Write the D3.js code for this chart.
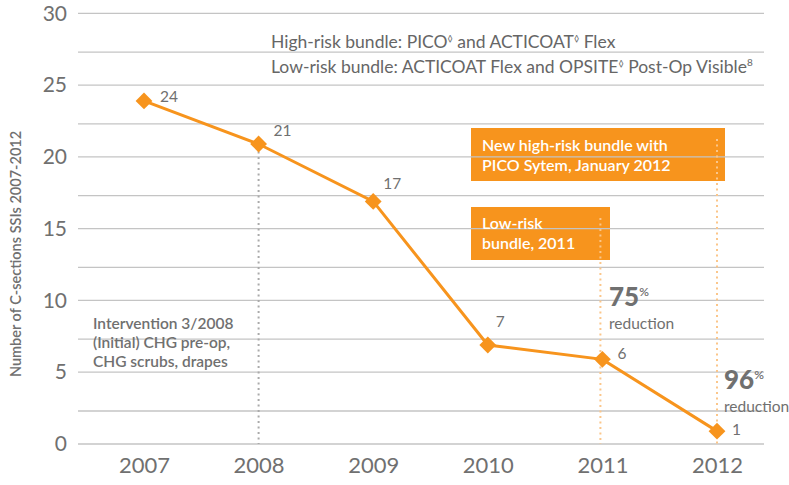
<!DOCTYPE html>
<html>
<head>
<meta charset="utf-8">
<script src="https://cdn.jsdelivr.net/npm/d3@7"></script>
<style>
  body { margin: 0; background: #fff; }
  svg text { font-family: Lato, "Open Sans", sans-serif; }
</style>
</head>
<body>
<figure id="ssiChart" style="margin:0"></figure>
<script>
// data
var years = ["2007", "2008", "2009", "2010", "2011", "2012"];
var ssiCounts = [24, 21, 17, 7, 6, 1];
var yTicks = [0, 5, 10, 15, 20, 25, 30];
var minorGrid = [2.3, 7.3, 12.3, 17.3, 22.3, 27.3];

var width = 789, height = 485;
var orange = "#f7941d", gray = "#707070";

var svg = d3.select("figure#ssiChart")
  .append("svg")
  .attr("width", width)
  .attr("height", height);

// scales
var x = d3.scalePoint()
  .domain(years)
  .range([144, 717]);

var y = d3.scaleLinear()
  .domain([0, 30])
  .range([444, 13.3]);

// orange annotation boxes (gridlines sit on top of them)
svg.append("rect")
  .attr("x", 471).attr("y", 128)
  .attr("width", 254).attr("height", 53)
  .attr("fill", orange);
svg.append("rect")
  .attr("x", 471).attr("y", 207)
  .attr("width", 139).attr("height", 53)
  .attr("fill", orange);

// gridlines
var grid = svg.append("g").attr("class", "grid");
grid.selectAll("line.major")
  .data(yTicks)
  .enter().append("line")
  .attr("x1", 78).attr("x2", 764)
  .attr("y1", d => y(d)).attr("y2", d => y(d))
  .attr("stroke", "#c4c4c4")
  .attr("stroke-width", 1.3);
grid.selectAll("line.minor")
  .data(minorGrid)
  .enter().append("line")
  .attr("x1", 78).attr("x2", 764)
  .attr("y1", d => y(d)).attr("y2", d => y(d))
  .attr("stroke", "#c4c4c4")
  .attr("stroke-width", 1.3);

// y axis labels
svg.append("g")
  .attr("transform", "translate(67,0)")
  .call(d3.axisLeft(y).tickValues(yTicks).tickSize(0).tickPadding(0))
  .call(g => g.select(".domain").remove())
  .selectAll("text")
  .attr("fill", gray)
  .style("font-size", "21px")
  .style("font-weight", 400);

// x axis labels
svg.append("g")
  .attr("transform", "translate(0,457)")
  .call(d3.axisBottom(x).tickSize(0).tickPadding(0))
  .call(g => g.select(".domain").remove())
  .selectAll("text")
  .attr("fill", gray)
  .style("font-size", "22px")
  .style("font-weight", 400);

// y axis title
svg.append("text")
  .attr("transform", "translate(21,254) rotate(-90)")
  .attr("text-anchor", "middle")
  .attr("fill", gray)
  .style("font-size", "14.5px")
  .style("font-weight", 600)
  .text("Number of C-sections SSIs 2007-2012");

// vertical dotted markers
svg.append("line")
  .attr("x1", x("2008")).attr("x2", x("2008"))
  .attr("y1", y(ssiCounts[1]) + 9).attr("y2", y(0))
  .attr("stroke", "#aaa").attr("stroke-width", 2)
  .attr("stroke-dasharray", "2,3.5");
svg.append("line")
  .attr("x1", x("2011") - 2).attr("x2", x("2011") - 2)
  .attr("y1", 218).attr("y2", y(0))
  .attr("stroke", "#fbc68a").attr("stroke-width", 2)
  .attr("stroke-dasharray", "2,3.5");
svg.append("line")
  .attr("x1", x("2012")).attr("x2", x("2012"))
  .attr("y1", 139).attr("y2", y(0))
  .attr("stroke", "#fbc68a").attr("stroke-width", 2)
  .attr("stroke-dasharray", "2,3.5");

// line + diamonds
var line = d3.line()
  .x((d, i) => x(years[i]))
  .y(d => y(d) + 1.5);

svg.append("path")
  .datum(ssiCounts)
  .attr("fill", "none")
  .attr("stroke", orange)
  .attr("stroke-width", 3)
  .attr("d", line);

svg.selectAll("path.pt")
  .data(ssiCounts)
  .enter().append("path")
  .attr("class", "pt")
  .attr("d", d3.symbol().type(d3.symbolDiamond2).size(180))
  .attr("transform", (d, i) => "translate(" + x(years[i]) + "," + (y(d) + 1.5) + ")")
  .attr("fill", orange);

// value labels
var labelOff = [[16, 3], [15, -7], [10, -11], [8, -17], [15, 1], [15, 5]];
svg.selectAll("text.val")
  .data(ssiCounts)
  .enter().append("text")
  .attr("class", "val")
  .attr("x", (d, i) => x(years[i]) + labelOff[i][0])
  .attr("y", (d, i) => y(d) + labelOff[i][1])
  .attr("fill", gray)
  .style("font-size", "15.5px")
  .text(d => d);

// legend text at the top
svg.append("text")
  .attr("x", 271).attr("y", 48)
  .attr("fill", "#666").style("font-size", "17.5px").style("font-weight", 400)
  .html('High-risk bundle: PICO<tspan dy="-6" font-size="9">◊</tspan><tspan dy="6"> and ACTICOAT</tspan><tspan dy="-6" font-size="9">◊</tspan><tspan dy="6"> Flex</tspan>');
svg.append("text")
  .attr("x", 271).attr("y", 73)
  .attr("fill", "#666").style("font-size", "17.5px").style("font-weight", 400)
  .html('Low-risk bundle: ACTICOAT Flex and OPSITE<tspan dy="-6" font-size="9">◊</tspan><tspan dy="6"> Post-Op Visible</tspan><tspan dy="-7" font-size="10">8</tspan>');

// box texts
function lines(tx, ty, arr, opts) {
  var t = svg.append("text")
    .attr("x", tx).attr("y", ty)
    .attr("fill", opts.fill)
    .style("font-size", opts.size)
    .style("font-weight", opts.weight);
  arr.forEach((s, i) => {
    t.append("tspan").attr("x", tx).attr("dy", i ? opts.lh : 0).text(s);
  });
}
lines(482, 151, ["New high-risk bundle with", "PICO Sytem, January 2012"],
  {fill: "#fff", size: "16px", weight: 600, lh: 20});
lines(482, 229, ["Low-risk", "bundle, 2011"],
  {fill: "#fff", size: "16px", weight: 600, lh: 20});

// intervention note
lines(93, 329, ["Intervention 3/2008", "(Initial) CHG pre-op,", "CHG scrubs, drapes"],
  {fill: gray, size: "15.5px", weight: 600, lh: 19});

// reduction callouts
function callout(cx, cy, pct) {
  svg.append("text")
    .attr("x", cx).attr("y", cy)
    .attr("fill", gray)
    .style("font-size", "26px").style("font-weight", 900)
    .html(pct + '<tspan dy="-10" font-size="12" font-weight="600">%</tspan>');
  svg.append("text")
    .attr("x", cx).attr("y", cy + 23)
    .attr("fill", gray)
    .style("font-size", "15.5px").style("font-weight", 400)
    .text("reduction");
}
callout(609, 306, "75");
callout(724, 389, "96");
</script>
</body>
</html>
